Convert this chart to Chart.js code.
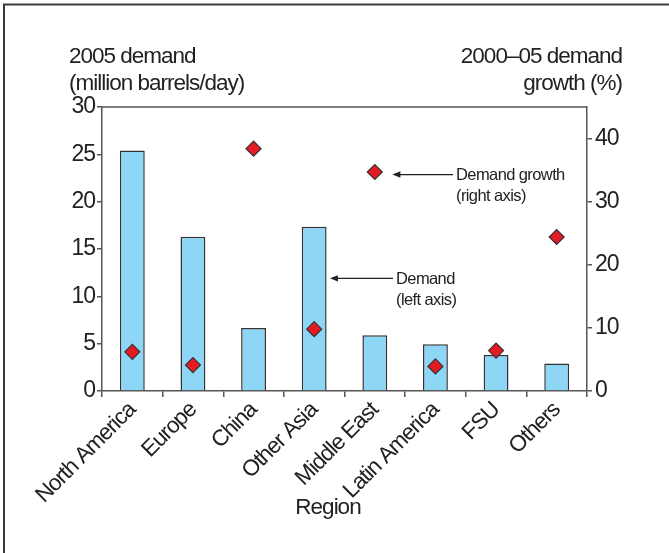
<!DOCTYPE html>
<html>
<head>
<meta charset="utf-8">
<script src="https://cdn.jsdelivr.net/npm/chart.js@4"></script>
<style>
  html, body { margin: 0; padding: 0; background: #fff; overflow: hidden; }
  #wrap { width: 669px; height: 553px; position: relative; }
</style>
</head>
<body>
<div id="wrap"><canvas id="c" width="669" height="553"></canvas></div>
<script>
// ---- data ----
const regions = ["North America", "Europe", "China", "Other Asia", "Middle East", "Latin America", "FSU", "Others"];
const demand2005 = [25.4, 16.3, 6.65, 17.35, 5.9, 4.95, 3.8, 2.9];        // million barrels/day (left axis)
const growth2000to05 = [6.2, 4.1, 38.4, 9.8, 34.7, 3.9, 6.4, 24.4];      // % (right axis)
const leftTicks = [0, 5, 10, 15, 20, 25, 30];
const rightTicks = [0, 10, 20, 30, 40];
const leftTitle = ["2005 demand", "(million barrels/day)"];
const rightTitle = ["2000\u201305 demand", "growth (%)"];
const xTitle = "Region";
// annotations: arrow from tail (category index, value) to tip, on given axis
const notes = [
  { lines: ["Demand growth", "(right axis)"], axis: "y1", value: 34.3, tip: 4.29, tail: 5.29 },
  { lines: ["Demand", "(left axis)"], axis: "y", value: 11.9, tip: 3.26, tail: 4.30 }
];

const FONT = "'Liberation Sans', Arial, sans-serif";
const TXT = '#222';
const AX = '#555';
const SPACING = '-1px';

const tighten = {
  id: 'tighten',
  beforeInit(chart) { chart.ctx.letterSpacing = SPACING; },
  beforeLayout(chart) { chart.ctx.letterSpacing = SPACING; },
  beforeDraw(chart) { chart.ctx.letterSpacing = SPACING; }
};

const decor = {
  id: 'decor',
  afterDraw(chart) {
    const ctx = chart.ctx;
    const a = chart.chartArea;
    const xs = chart.scales.x;
    ctx.save();
    // outer frame (left + top)
    ctx.strokeStyle = '#3a3a3a';
    ctx.lineWidth = 2;
    ctx.beginPath();
    ctx.moveTo(4, 553); ctx.lineTo(4, 4.5); ctx.lineTo(669, 4.5);
    ctx.stroke();
    // plot top border
    ctx.strokeStyle = AX;
    ctx.lineWidth = 1.5;
    ctx.beginPath();
    ctx.moveTo(a.left, a.top); ctx.lineTo(a.right, a.top);
    ctx.stroke();
    // axis titles
    ctx.letterSpacing = SPACING;
    ctx.fillStyle = TXT;
    ctx.font = '22.5px ' + FONT;
    ctx.textBaseline = 'middle';
    ctx.textAlign = 'left';
    ctx.fillText(leftTitle[0], 69, 57);
    ctx.fillText(leftTitle[1], 69, 84);
    ctx.textAlign = 'right';
    ctx.fillText(rightTitle[0], 622, 57);
    ctx.fillText(rightTitle[1], 622, 84);
    ctx.textAlign = 'center';
    ctx.fillText(xTitle, 328, 508);
    // annotations
    ctx.letterSpacing = '-0.6px';
    ctx.font = '16.5px ' + FONT;
    ctx.textAlign = 'left';
    notes.forEach(n => {
      const y = chart.scales[n.axis].getPixelForValue(n.value);
      const xTip = xs.getPixelForValue(n.tip);
      const xTail = xs.getPixelForValue(n.tail);
      ctx.strokeStyle = '#222';
      ctx.lineWidth = 1.2;
      ctx.beginPath();
      ctx.moveTo(xTail, y); ctx.lineTo(xTip + 6, y);
      ctx.stroke();
      ctx.fillStyle = '#222';
      ctx.beginPath();
      ctx.moveTo(xTip, y); ctx.lineTo(xTip + 8, y - 3.2); ctx.lineTo(xTip + 8, y + 3.2);
      ctx.closePath(); ctx.fill();
      ctx.fillStyle = TXT;
      ctx.fillText(n.lines[0], xTail + 3, y + 1);
      ctx.fillText(n.lines[1], xTail + 3, y + 22);
    });
    ctx.restore();
  }
};

new Chart(document.getElementById('c'), {
  data: {
    labels: regions,
    datasets: [
      {
        type: 'line',
        label: 'Demand growth (right axis)',
        data: growth2000to05,
        yAxisID: 'y1',
        showLine: false,
        pointStyle: 'rectRot',
        pointRadius: 7.5,
        pointBackgroundColor: '#e51b23',
        pointBorderColor: '#333',
        pointBorderWidth: 1.2,
        order: 0
      },
      {
        type: 'bar',
        label: 'Demand (left axis)',
        data: demand2005,
        yAxisID: 'y',
        backgroundColor: '#8ed6f6',
        borderColor: '#333',
        borderWidth: 1.5,
        categoryPercentage: 1,
        barPercentage: 0.41,
        order: 1
      }
    ]
  },
  options: {
    responsive: false,
    animation: false,
    devicePixelRatio: 1,
    layout: { padding: { top: 107, left: 0, right: 0, bottom: 0 } },
    plugins: { legend: { display: false }, tooltip: { enabled: false }, title: { display: false } },
    scales: {
      x: {
        type: 'category',
        offset: true,
        grid: { display: true, drawOnChartArea: false, drawTicks: true, tickLength: 6, color: AX, lineWidth: 1.5, offset: true },
        border: { display: true, color: AX, width: 1.5 },
        ticks: { color: TXT, font: { family: FONT, size: 22.5 }, minRotation: 45, maxRotation: 45, autoSkip: false, padding: 0 },
        afterFit(scale) { scale.height = 162; }
      },
      y: {
        type: 'linear',
        position: 'left',
        min: 0, max: 30,
        afterBuildTicks(scale) { scale.ticks = leftTicks.map(v => ({ value: v })); },
        grid: { display: true, drawOnChartArea: false, drawTicks: true, tickLength: 5, color: AX, lineWidth: 1.5 },
        border: { display: true, color: AX, width: 1.5 },
        ticks: { color: TXT, font: { family: FONT, size: 23 }, padding: 2 },
        afterFit(scale) { scale.width = 102; }
      },
      y1: {
        type: 'linear',
        position: 'right',
        min: 0, max: 45,
        afterBuildTicks(scale) { scale.ticks = rightTicks.map(v => ({ value: v })); },
        grid: { display: true, drawOnChartArea: false, drawTicks: true, tickLength: 5, color: AX, lineWidth: 1.5 },
        border: { display: true, color: AX, width: 1.5 },
        ticks: { color: TXT, font: { family: FONT, size: 23 }, padding: 3 },
        afterFit(scale) { scale.width = 82; }
      }
    }
  },
  plugins: [tighten, decor]
});
</script>
</body>
</html>
